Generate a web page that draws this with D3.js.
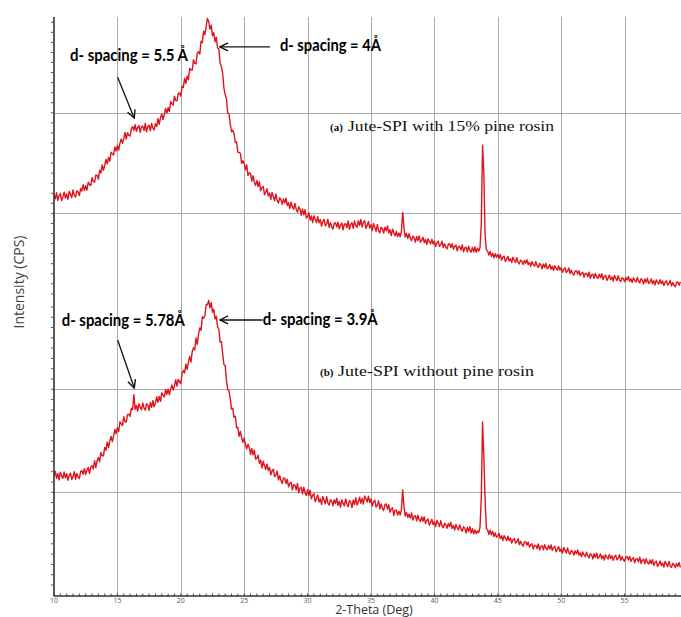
<!DOCTYPE html>
<html>
<head>
<meta charset="utf-8">
<script src="https://cdn.jsdelivr.net/npm/d3@7"></script>
<style>
  html, body { margin: 0; padding: 0; background: #fff; }
  svg { display: block; }
</style>
</head>
<body>
<svg id="chart" width="681" height="617"></svg>
<script>
// XRD scans, sampled every 0.1° in 2θ starting at 10° (one row = 1°)
const thetaStart = 10;
const thetaStep = 0.1;

// (a) Jute-SPI with 15% pine rosin — intensity (CPS)
const scanWithRosin = [
  1192,1144,1205,1129,1174,1198,1128,1165,1211,1152,
  1192,1140,1220,1187,1156,1233,1177,1163,1224,1215,
  1177,1247,1222,1286,1228,1275,1231,1311,1286,1277,
  1356,1319,1309,1382,1380,1341,1429,1401,1483,1429,
  1474,1537,1492,1557,1518,1608,1592,1581,1660,1620,
  1675,1630,1698,1739,1696,1738,1805,1739,1803,1775,
  1769,1842,1863,1826,1882,1816,1854,1873,1805,1862,
  1867,1824,1894,1811,1862,1876,1821,1894,1846,1828,
  1892,1863,1943,1886,1951,1988,1932,1983,2043,1998,
  2052,2015,2110,2091,2076,2165,2122,2119,2193,2197,
  2165,2265,2252,2345,2293,2365,2329,2440,2425,2423,
  2527,2491,2487,2592,2606,2583,2713,2696,2812,2776,
  2860,2938,2910,2832,2870,2766,2797,2705,2752,2644,
  2635,2492,2461,2395,2245,2181,2140,2001,1991,1890,
  1810,1827,1792,1704,1710,1607,1607,1596,1497,1524,
  1498,1434,1482,1376,1405,1397,1318,1374,1308,1278,
  1328,1267,1315,1225,1257,1268,1186,1211,1245,1174,
  1202,1139,1208,1165,1126,1194,1128,1103,1155,1137,
  1089,1143,1103,1151,1078,1108,1048,1111,1070,1040,
  1100,1042,1012,1065,1043,980,1044,986,1038,954,
  969,1006,935,974,909,978,941,909,967,906,
  940,874,920,940,876,897,942,860,909,866,
  844,902,908,863,912,846,884,904,836,893,
  898,856,926,842,893,907,851,925,879,862,
  927,879,941,865,911,928,851,881,920,854,
  887,828,901,860,822,891,828,807,863,848,
  805,863,827,876,804,837,779,844,805,777,
  820,770,805,768,820,1010,860,765,800,751,
  798,753,730,774,758,714,770,729,775,714,
  731,764,709,742,691,748,720,696,744,696,
  725,672,708,724,672,689,724,660,698,664,
  647,694,699,662,699,644,672,685,628,671,
  671,635,688,619,657,665,618,673,632,615,
  662,617,666,613,655,625,660,900,1680,1400,
  780,640,625,586,622,572,603,558,599,564,
  592,554,593,536,563,576,522,545,573,527,
  550,511,564,536,511,560,515,498,535,524,
  492,531,504,540,491,513,474,520,493,475,
  519,481,462,502,489,449,498,463,504,449,
  465,492,444,474,431,480,456,435,477,437,
  461,414,446,459,413,428,458,401,434,403,
  387,427,431,397,430,381,405,415,365,402,
  403,370,416,355,389,396,355,404,368,354,
  396,359,400,343,372,386,334,357,387,342,
  367,328,383,356,332,381,338,322,361,351,
  321,362,337,374,326,350,313,361,335,318,
  364,328,310,350,338,299,349,314,356,302,
  319,348,301,331,289,339,316,297,341,302,
  328,282,316,331,287,303,335,279,314,285,
  271,313,318,286,320
];

// (b) Jute-SPI without pine rosin — intensity (CPS)
const scanWithoutRosin = [
  1162,1203,1137,1181,1121,1195,1162,1135,1198,1141,
  1180,1116,1164,1186,1124,1150,1200,1127,1183,1147,
  1133,1199,1212,1174,1230,1171,1216,1242,1181,1245,
  1257,1226,1307,1240,1307,1337,1297,1386,1354,1354,
  1436,1408,1489,1433,1499,1543,1493,1547,1611,1569,
  1627,1590,1686,1665,1647,1734,1687,1682,1753,1759,
  1737,1817,1801,1948,1806,1843,1789,1859,1824,1801,
  1867,1818,1797,1859,1846,1795,1872,1826,1891,1830,
  1869,1925,1874,1930,1883,1966,1944,1926,1999,1952,
  2001,1946,2004,2041,1994,2032,2094,2030,2096,2070,
  2057,2151,2183,2158,2245,2194,2265,2318,2264,2365,
  2403,2383,2499,2437,2535,2596,2572,2704,2689,2712,
  2824,2821,2862,2790,2842,2748,2778,2682,2710,2606,
  2583,2458,2464,2351,2241,2232,2089,1999,1984,1910,
  1807,1815,1728,1739,1627,1631,1543,1590,1531,1485,
  1527,1461,1422,1467,1435,1367,1426,1363,1410,1322,
  1332,1361,1281,1312,1238,1301,1257,1222,1276,1212,
  1242,1170,1209,1223,1152,1167,1206,1119,1162,1114,
  1086,1138,1138,1085,1126,1054,1085,1098,1023,1074,
  1072,1023,1086,996,1040,1047,984,1050,994,969,
  1025,968,1020,936,972,987,908,937,974,906,
  937,882,959,922,887,958,896,875,929,914,
  870,928,890,943,874,911,857,927,892,869,
  935,884,860,920,904,851,925,881,947,877,
  906,953,892,941,885,964,937,905,962,901,
  934,865,907,924,856,875,918,838,887,844,
  822,881,887,836,879,807,837,849,773,826,
  827,780,817,780,830,1022,860,770,804,756,
  786,749,800,730,766,773,724,777,734,716,
  762,719,762,696,727,741,681,706,738,686,
  714,668,728,697,669,724,673,656,699,686,
  651,697,667,708,650,678,633,687,657,636,
  686,643,621,666,650,605,661,620,666,604,
  646,598,635,597,624,610,663,950,1683,1350,
  925,650,634,590,632,588,620,570,605,565,
  576,601,550,578,532,580,553,532,573,532,
  555,508,539,552,506,519,549,492,524,493,
  477,517,519,485,517,468,490,500,449,485,
  485,453,499,440,474,482,441,492,456,442,
  484,449,490,434,463,476,422,445,473,427,
  450,410,464,436,411,460,415,398,435,424,
  392,432,404,440,390,413,374,420,393,375,
  418,382,363,404,391,353,403,368,410,356,
  373,402,355,385,343,394,371,353,397,358,
  384,339,374,389,345,361,394,339,374,345,
  330,371,376,343,377,329,354,365,316,354,
  356,324,370,309,342,349,307,356,319,304,
  344,307,347,290,318,332,280,303,333,288,
  313,274,329,302,279,329,286,270,309,298,
  268,309,282,319,270
];

const thetaTicks = [10, 15, 20, 25, 30, 35, 40, 45, 50, 55];
const intensityGrid = [1000, 2000];

// d-spacing call-outs: [label, panel, text 2θ, text CPS, arrow from 2θ, CPS, arrow to 2θ, CPS, text width]
const callouts = [
  ["d- spacing = 5.5 Å", "a", 11.26, 2513, 15.02, 2354, 16.33, 1947, 118],
  ["d- spacing = 4Å",    "a", 27.82, 2612, 27.03, 2655, 23.09, 2655, 101],
  ["d- spacing = 5.78Å", "b", 10.61, 2614, 15.02, 2479, 16.33, 2013, 123],
  ["d- spacing = 3.9Å",  "b", 26.46, 2624, 26.46, 2673, 23.09, 2673, 115]
];

// sample captions: [tag, name, panel, 2θ, CPS, name width]
const captions = [
  ["(a)", "Jute-SPI with 15% pine rosin", "a", 31.77, 1822, 206],
  ["(b)", "Jute-SPI without pine rosin", "b", 30.98, 2129, 196]
];

(function draw() {
  const W = 681;
  const plotLeft = 54, plotRight = W, plotTop = 17, plotBottom = 596;

  const svg = d3.select("#chart");

  const x = d3.scaleLinear().domain([10, 59.45]).range([plotLeft, 681]);
  const panels = {
    a: d3.scaleLinear().domain([0, 3000]).range([314, 12.2]),
    b: d3.scaleLinear().domain([0, 3000]).range([595.3, 286.3])
  };

  // grid
  const grid = svg.append("g").attr("stroke", "#ababab").attr("stroke-width", 1);
  thetaTicks.filter(t => t > 10).forEach(t => {
    grid.append("line")
      .attr("x1", Math.round(x(t)) + 0.5).attr("x2", Math.round(x(t)) + 0.5)
      .attr("y1", plotTop).attr("y2", plotBottom);
  });
  Object.values(panels).forEach(y => {
    intensityGrid.forEach(v => {
      grid.append("line")
        .attr("x1", plotLeft).attr("x2", plotRight)
        .attr("y1", Math.round(y(v)) + 0.5).attr("y2", Math.round(y(v)) + 0.5);
    });
  });

  // scans
  const lineFor = y => d3.line()
    .x((d, i) => x(thetaStart + i * thetaStep))
    .y(d => y(d));

  [[scanWithRosin, panels.a], [scanWithoutRosin, panels.b]].forEach(([data, y]) => {
    svg.append("path")
      .datum(data)
      .attr("fill", "none")
      .attr("stroke", "#e0141c")
      .attr("stroke-width", 1.4)
      .attr("stroke-linejoin", "round")
      .attr("d", lineFor(y));
  });

  // x axis with 0.5° minor ticks
  const xAxis = svg.append("g").attr("transform", `translate(0,${plotBottom})`);
  xAxis.append("line").attr("x1", plotLeft).attr("x2", plotRight).attr("y1", 0).attr("y2", 0)
    .attr("stroke", "#333").attr("stroke-width", 1.6);
  d3.range(10, 59.5, 0.5).forEach(t => {
    xAxis.append("line")
      .attr("x1", x(t)).attr("x2", x(t)).attr("y1", -2.5).attr("y2", 0.5)
      .attr("stroke", "#444").attr("stroke-width", 1);
  });
  xAxis.selectAll("text.tick").data(thetaTicks).join("text")
    .attr("class", "tick")
    .attr("x", d => x(d)).attr("y", 6.5)
    .attr("text-anchor", "middle")
    .attr("font-family", "Open Sans, sans-serif")
    .attr("font-size", 7)
    .attr("fill", "#555")
    .text(d => d);

  // y axis with minor ticks every 100 CPS
  const yAxis = svg.append("g");
  yAxis.append("line").attr("x1", plotLeft).attr("x2", plotLeft).attr("y1", plotTop).attr("y2", plotBottom)
    .attr("stroke", "#333").attr("stroke-width", 1.6);
  const yTicks = [];
  d3.range(100, 3000, 100).forEach(v => { const p = panels.a(v); if (p >= plotTop + 2 && p < 300) yTicks.push(p); });
  d3.range(100, 3000, 100).forEach(v => { const p = panels.b(v); if (p > 303 && p < plotBottom - 2) yTicks.push(p); });
  yTicks.forEach(p => {
    yAxis.append("line").attr("x1", plotLeft - 3).attr("x2", plotLeft).attr("y1", p).attr("y2", p)
      .attr("stroke", "#555").attr("stroke-width", 1);
  });

  // axis titles
  svg.append("text")
    .attr("transform", "translate(24,282) rotate(-90)")
    .attr("text-anchor", "middle")
    .attr("font-family", "Open Sans, sans-serif")
    .attr("font-size", 14)
    .attr("fill", "#444")
    .text("Intensity (CPS)");
  svg.append("text")
    .attr("x", 374).attr("y", 614)
    .attr("text-anchor", "middle")
    .attr("font-family", "Open Sans, sans-serif")
    .attr("font-size", 12.5)
    .attr("fill", "#333")
    .text("2-Theta (Deg)");

  // arrowhead
  svg.append("defs").append("marker")
    .attr("id", "head")
    .attr("viewBox", "0 0 10 10")
    .attr("refX", 9).attr("refY", 5)
    .attr("markerWidth", 10).attr("markerHeight", 10)
    .attr("markerUnits", "userSpaceOnUse")
    .attr("orient", "auto")
    .append("path")
    .attr("d", "M1,1 L9,5 L1,9")
    .attr("fill", "none").attr("stroke", "#111").attr("stroke-width", 1.4);

  callouts.forEach(([label, panel, tx, ty, ax1, ay1, ax2, ay2, w]) => {
    const y = panels[panel];
    svg.append("line")
      .attr("x1", x(ax1)).attr("y1", y(ay1))
      .attr("x2", x(ax2)).attr("y2", y(ay2))
      .attr("stroke", "#111").attr("stroke-width", 1.3)
      .attr("marker-end", "url(#head)");
    svg.append("text")
      .attr("x", x(tx)).attr("y", y(ty))
      .attr("font-family", "Lato, sans-serif")
      .attr("font-weight", 700)
      .attr("font-size", 17)
      .attr("fill", "#000")
      .attr("textLength", w)
      .attr("lengthAdjust", "spacingAndGlyphs")
      .text(label);
  });

  captions.forEach(([tag, name, panel, tx, ty, w]) => {
    const y = panels[panel];
    svg.append("text")
      .attr("x", x(tx)).attr("y", y(ty))
      .attr("font-family", "Liberation Serif, Times New Roman, serif")
      .attr("font-size", 11)
      .attr("font-weight", 700)
      .attr("fill", "#111")
      .text(tag);
    svg.append("text")
      .attr("x", x(tx) + 18).attr("y", y(ty))
      .attr("font-family", "Liberation Serif, Times New Roman, serif")
      .attr("font-size", 15.5)
      .attr("fill", "#111")
      .attr("textLength", w)
      .attr("lengthAdjust", "spacingAndGlyphs")
      .text(name);
  });
})();
</script>
</body>
</html>
